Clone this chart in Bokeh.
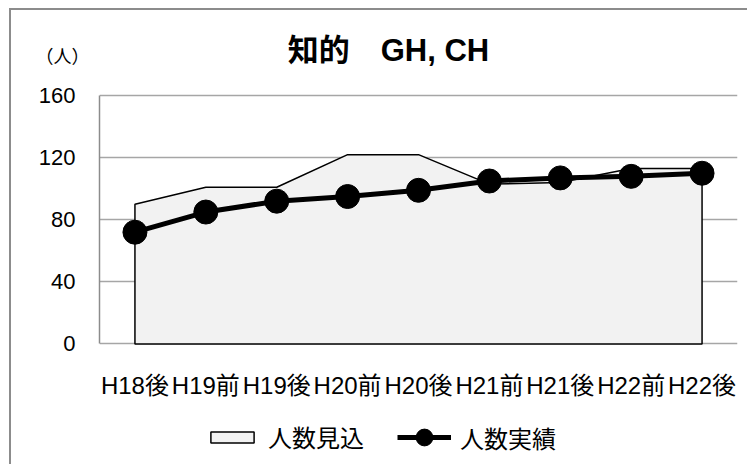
from bokeh.plotting import figure
from bokeh.models import (Legend, LegendItem, Range1d, FixedTicker, LinearAxis, Label,
                          LabelSet, ColumnDataSource)
from bokeh.core.properties import value
from bokeh.embed import file_html
from bokeh.resources import INLINE

categories = ["H18後", "H19前", "H19後", "H20前", "H20後", "H21前", "H21後", "H22前", "H22後"]
forecast = [90, 101, 101, 122, 122, 103, 104, 113, 113]   # 人数見込
actual = [72, 85, 92, 95, 99, 105, 107, 108, 110]         # 人数実績
y_ticks = [0, 40, 80, 120, 160]
unit_text = "（人）"
title_text = "知的　GH, CH"

FONT_MIX = "Liberation Sans, Noto Sans CJK JP"
idx = list(range(len(categories)))

# the frame also holds the title row (above 160) and the category/legend rows (below 0)
Y_TOP = 202
Y_BOTTOM = -79
UNIT_Y = 186

p = figure(
    x_range=Range1d(-0.5, len(categories) - 0.5),
    y_range=Range1d(Y_BOTTOM, Y_TOP),
    width=738, height=456,
    min_border_left=88, min_border_right=12,
    min_border_top=20, min_border_bottom=0,
    output_backend="svg", toolbar_location=None,
)
p.margin = (8, 0, 0, 9)
p.styles = {"border-top": "2px solid #8c8c8c", "border-left": "2px solid #8c8c8c"}
p.outline_line_color = None
p.background_fill_color = "white"

# area (forecast) as a closed patch from baseline
xs = [idx[0]] + idx + [idx[-1]]
ys = [0] + forecast + [0]
area = p.patch(xs, ys, fill_color="#f2f2f2", line_color="black", line_width=1.5)

# actual line + markers
ln = p.line(idx, actual, line_color="black", line_width=5)
sc = p.scatter(idx, actual, size=24, fill_color="black", line_color="black")

# value axis (line only between 0 and 160)
yax = p.yaxis[0]
yax.ticker = FixedTicker(ticks=y_ticks)
yax.bounds = (0, 160)
yax.major_label_text_font = "Liberation Sans"
yax.major_label_text_font_size = "22px"
yax.major_label_text_color = "black"
yax.major_tick_line_color = None
yax.minor_tick_line_color = None
yax.major_tick_out = 0
yax.minor_tick_out = 0
yax.major_label_standoff = 24
yax.axis_line_color = "#8c8c8c"
yax.axis_line_width = 1.5

p.ygrid.ticker = FixedTicker(ticks=y_ticks)
p.ygrid.grid_line_color = "#a6a6a6"
p.ygrid.grid_line_width = 1.5
p.xgrid.grid_line_color = None

# unit text on its own axis (no line, no ticks)
unit_axis = LinearAxis(ticker=FixedTicker(ticks=[UNIT_Y]),
                       major_label_overrides={UNIT_Y: unit_text},
                       major_label_text_font="Noto Sans CJK JP",
                       major_label_text_font_size="18px",
                       major_label_text_color="black",
                       major_label_standoff=-54,
                       axis_line_color=None, major_tick_line_color=None,
                       minor_tick_line_color=None, major_tick_out=0, minor_tick_out=0)
p.add_layout(unit_axis, "left")

# category labels under the zero line
p.xaxis.visible = False
cat_src = ColumnDataSource(dict(x=idx, text=categories))
p.add_layout(LabelSet(x="x", y=0, y_offset=-42, text="text", source=cat_src,
                      text_font=value(FONT_MIX), text_font_size=value("24px"),
                      text_color="black", text_align="center", text_baseline="middle"))

# chart title
p.add_layout(Label(x=-0.5, y=160, x_offset=289, y_offset=45, text=title_text,
                   text_font=FONT_MIX, text_font_size="31px", text_font_style="bold",
                   text_align="center", text_baseline="middle", text_color="black"))

common = dict(orientation="horizontal", label_text_font="Noto Sans CJK JP",
              label_text_font_size="24px", label_text_color="black",
              glyph_width=54, label_standoff=9, spacing=30,
              border_line_color=None, background_fill_alpha=0, margin=0, padding=8)

legend_area = Legend(items=[LegendItem(label="人数見込", renderers=[area])],
                     location=(106, 12), glyph_height=14, **common)
legend_line = Legend(items=[LegendItem(label="人数実績", renderers=[ln, sc])],
                     location=(298, 8), glyph_height=42, **common)
p.add_layout(legend_area, "center")
p.add_layout(legend_line, "center")

open("out.html", "w").write(file_html(p, INLINE))
